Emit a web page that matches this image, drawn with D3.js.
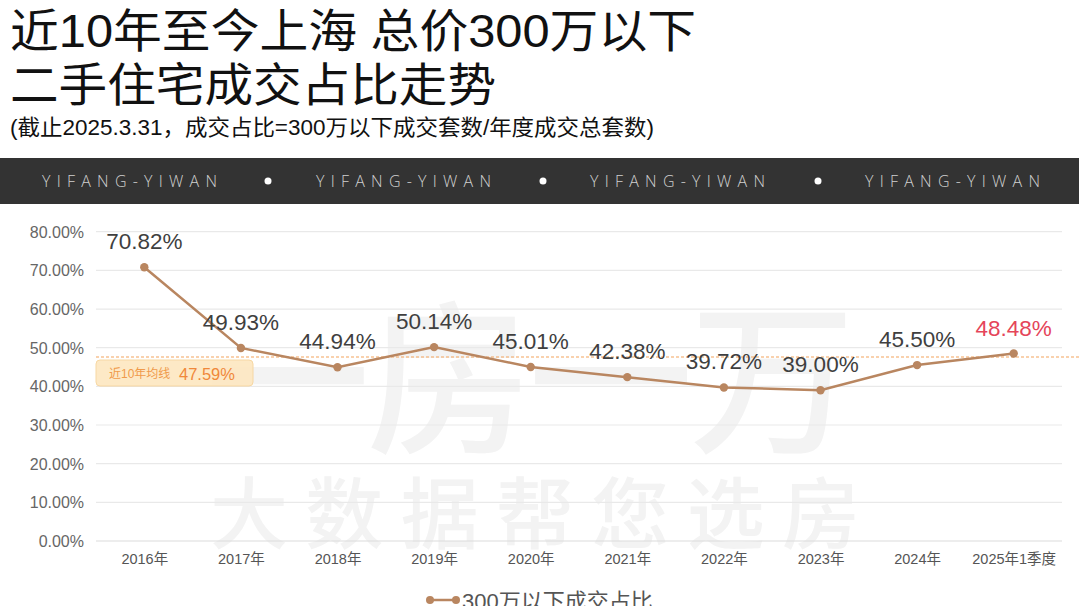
<!DOCTYPE html>
<html><head><meta charset="utf-8">
<script src="https://cdn.jsdelivr.net/npm/d3@7"></script>
<style>
html,body{margin:0;padding:0;background:#fff;overflow:hidden}
svg{display:block}
</style></head>
<body><svg id="c" width="1079" height="606"></svg>
<script>
const categories = ["2016年","2017年","2018年","2019年","2020年","2021年","2022年","2023年","2024年","2025年1季度"];
const values = [70.82,49.93,44.94,50.14,45.01,42.38,39.72,39.00,45.50,48.48];
const yTicks = [0,10,20,30,40,50,60,70,80];
const averageValue = 47.59;
const seriesName = "300万以下成交占比";
const titleLines = ["近10年至今上海 总价300万以下","二手住宅成交占比走势"];
const subtitle = "(截止2025.3.31，成交占比=300万以下成交套数/年度成交总套数)";
const bandText = "YIFANG-YIWAN";

(function(){
const svg = d3.select("#c");
const FONT = "'Liberation Sans','Noto Sans CJK SC',sans-serif";

// Titles
svg.append("text").attr("x",10).attr("y",47).attr("font-family",FONT).attr("font-size",46)
  .attr("fill","#111").attr("textLength",686).attr("lengthAdjust","spacingAndGlyphs").text(titleLines[0]);
svg.append("text").attr("x",10).attr("y",101).attr("font-family",FONT).attr("font-size",46)
  .attr("fill","#111").attr("textLength",486).attr("lengthAdjust","spacingAndGlyphs").text(titleLines[1]);
svg.append("text").attr("x",10).attr("y",135).attr("font-family",FONT).attr("font-size",22)
  .attr("fill","#111").attr("textLength",644).attr("lengthAdjust","spacingAndGlyphs").text(subtitle);

// Dark band
svg.append("rect").attr("x",0).attr("y",158).attr("width",1079).attr("height",46).attr("fill","#333333");
[42,316,590,865].forEach(x=>{
  svg.append("text").attr("x",x).attr("y",187).attr("font-family","'Open Sans','DejaVu Sans',sans-serif")
    .attr("font-size",16).attr("font-weight",300).attr("fill","#d0d0d0")
    .attr("textLength",175).attr("lengthAdjust","spacing").text(bandText);
});
[268,543,818].forEach(x=>{
  svg.append("circle").attr("cx",x).attr("cy",181).attr("r",3.5).attr("fill","#fff");
});

// Plot
const pLeft = 96, pRight = 1062, pTop = 231.7, pBottom = 541;
const x = d3.scalePoint().domain(categories).range([pLeft,pRight]).padding(0.5);
const y = d3.scaleLinear().domain([0,80]).range([pBottom,pTop]);

// watermark
const wm = svg.append("g").attr("fill","#f3f3f3").attr("font-family","'Noto Sans CJK SC',sans-serif");
wm.append("text").attr("x",205).attr("y",440).attr("font-size",165).attr("font-weight",500)
  .attr("textLength",650).attr("lengthAdjust","spacing").text("一房一万");
wm.append("text").attr("x",210).attr("y",543).attr("font-size",78).attr("font-weight",500)
  .attr("textLength",650).attr("lengthAdjust","spacing").text("大数据帮您选房");

// grid
svg.append("g").selectAll("line").data(yTicks).join("line")
  .attr("x1",pLeft).attr("x2",pRight).attr("y1",d=>y(d)).attr("y2",d=>y(d))
  .attr("stroke",d=>d===0?"#dcdcdc":"#e9e9e9").attr("stroke-width",1.2);

// y axis labels
const yAxis = d3.axisLeft(y).tickValues(yTicks).tickSize(0).tickPadding(0).tickFormat(d=>d.toFixed(2)+"%");
const ya = svg.append("g").attr("transform",`translate(84,0)`).call(yAxis);
ya.select(".domain").remove();
ya.selectAll("text").attr("font-family",FONT).attr("font-size",16).attr("fill","#666").attr("dy","0.35em");

// x axis labels
const xAxis = d3.axisBottom(x).tickSize(0).tickPadding(0);
const xa = svg.append("g").attr("transform",`translate(0,553)`).call(xAxis);
xa.select(".domain").remove();
xa.selectAll("text").attr("font-family",FONT).attr("font-size",14.5).attr("fill","#555").attr("dy","0.75em");

// average line
svg.append("line").attr("x1",pLeft).attr("x2",1079).attr("y1",y(averageValue)).attr("y2",y(averageValue))
  .attr("stroke","#f3a35c").attr("stroke-width",1.2).attr("stroke-dasharray","3,2");
const ag = svg.append("g");
ag.append("rect").attr("x",96).attr("y",y(averageValue)+3).attr("width",157).attr("height",26).attr("rx",4)
  .attr("fill","#fde8c4").attr("stroke","#f7d69f").attr("stroke-width",1).attr("opacity",0.95);
ag.append("text").attr("x",109).attr("y",y(averageValue)+21).attr("font-family",FONT).attr("font-size",12)
  .attr("fill","#f09a4a").text("近10年均线");
ag.append("text").attr("x",179).attr("y",y(averageValue)+22.5).attr("font-family",FONT).attr("font-size",16.5)
  .attr("fill","#f0883a").text(averageValue.toFixed(2)+"%");

// line
const lineColor = "#b98660";
svg.append("path").datum(values).attr("fill","none").attr("stroke",lineColor).attr("stroke-width",2.5)
  .attr("d",d3.line().x((d,i)=>x(categories[i])).y(d=>y(d)));
svg.append("g").selectAll("circle").data(values).join("circle")
  .attr("cx",(d,i)=>x(categories[i])).attr("cy",d=>y(d)).attr("r",4.2).attr("fill",lineColor);

// labels
svg.append("g").selectAll("text").data(values).join("text")
  .attr("x",(d,i)=>x(categories[i])).attr("y",d=>y(d)-18)
  .attr("text-anchor","middle").attr("font-family",FONT).attr("font-size",22.5)
  .attr("fill",(d,i)=>i===values.length-1?"#e5455a":"#3f3f3f")
  .text(d=>d.toFixed(2)+"%");

// legend
const lg = svg.append("g");
lg.append("line").attr("x1",430).attr("x2",456).attr("y1",600).attr("y2",600).attr("stroke",lineColor).attr("stroke-width",2.5);
lg.append("circle").attr("cx",430).attr("cy",600).attr("r",4).attr("fill",lineColor);
lg.append("circle").attr("cx",456).attr("cy",600).attr("r",4).attr("fill",lineColor);
lg.append("text").attr("x",462).attr("y",609).attr("font-family",FONT).attr("font-size",22).attr("fill","#555").text(seriesName);
})();
</script>
</body></html>
